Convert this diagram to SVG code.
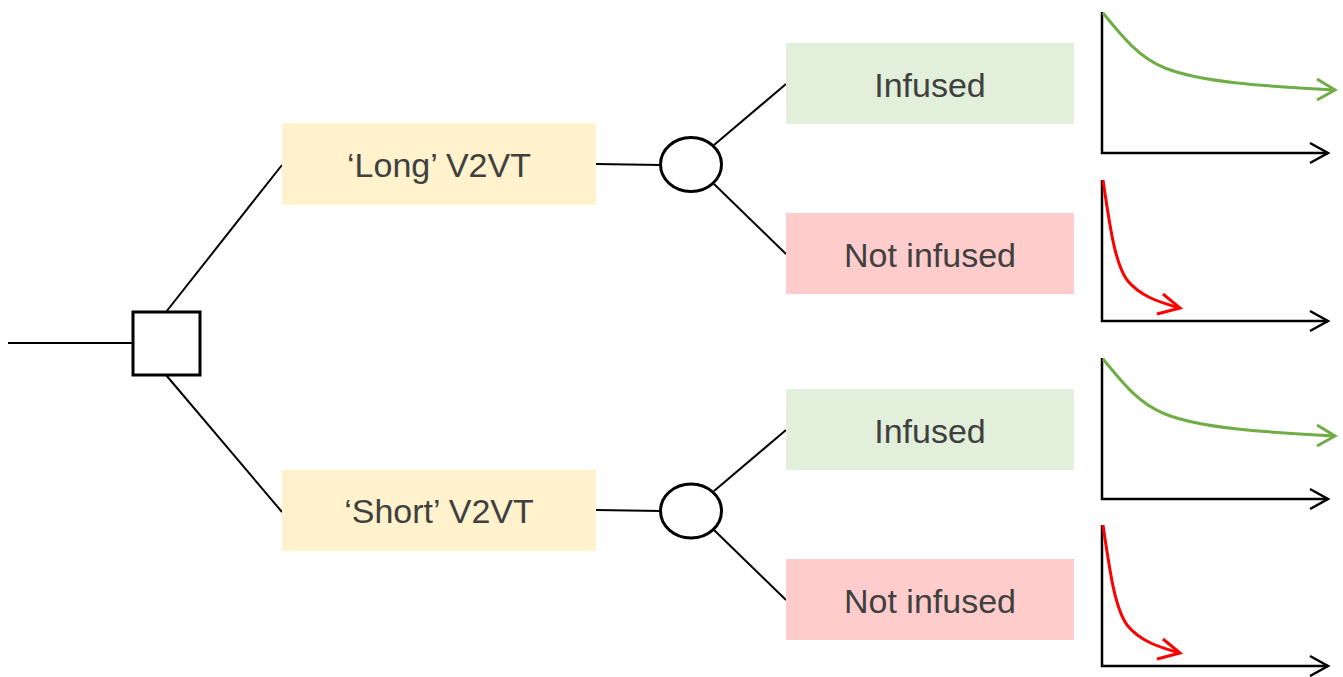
<svg xmlns="http://www.w3.org/2000/svg" width="1343" height="677" viewBox="0 0 1343 677">
  <style>
    .line { stroke: #000; stroke-width: 2; fill: none; }
    .node-shape { stroke: #000; stroke-width: 3; fill: #fff; }
    .label { font-family: "Liberation Sans", Arial, sans-serif; font-size: 34px; fill: #404040; text-anchor: middle; dominant-baseline: central; }
    .option { fill: #fff2cc; }
    .yes { fill: #e2efda; }
    .no { fill: #ffcccc; }
    .axis { stroke: #000; stroke-width: 2.5; fill: none; }
    .good { stroke: #70ad47; stroke-width: 3; fill: none; }
    .bad { stroke: #ff0000; stroke-width: 3; fill: none; }
  </style>
  <rect width="1343" height="677" fill="#fff"/>

  <g id="connectors">
    <line class="line" x1="8" y1="343" x2="133" y2="343"/>
    <line class="line" x1="166" y1="312" x2="282" y2="165"/>
    <line class="line" x1="166" y1="375" x2="282" y2="512"/>
    <line class="line" x1="596" y1="164" x2="661" y2="165"/>
    <line class="line" x1="714" y1="145" x2="786" y2="84"/>
    <line class="line" x1="714" y1="184" x2="786" y2="254"/>
    <line class="line" x1="596" y1="510" x2="661" y2="511"/>
    <line class="line" x1="714" y1="491" x2="786" y2="430"/>
    <line class="line" x1="714" y1="530" x2="786" y2="600"/>
  </g>

  <g id="decision">
    <rect class="node-shape" x="133" y="312" width="67" height="63"/>
  </g>

  <g id="long-v2vt">
    <rect class="option" x="282" y="123" width="314" height="82"/>
    <text class="label" x="439" y="165">‘Long’ V2VT</text>
  </g>
  <g id="short-v2vt">
    <rect class="option" x="282" y="470" width="314" height="81"/>
    <text class="label" x="439" y="511">‘Short’ V2VT</text>
  </g>

  <g id="chance-long">
    <ellipse class="node-shape" cx="691" cy="164.5" rx="30.5" ry="27"/>
  </g>
  <g id="chance-short">
    <ellipse class="node-shape" cx="691" cy="511" rx="30.5" ry="27"/>
  </g>

  <g id="long-infused">
    <rect class="yes" x="786" y="43" width="288" height="81"/>
    <text class="label" x="930" y="85">Infused</text>
  </g>
  <g id="long-not-infused">
    <rect class="no" x="786" y="213" width="288" height="81"/>
    <text class="label" x="930" y="255">Not infused</text>
  </g>
  <g id="short-infused">
    <rect class="yes" x="786" y="389" width="288" height="81"/>
    <text class="label" x="930" y="431">Infused</text>
  </g>
  <g id="short-not-infused">
    <rect class="no" x="786" y="559" width="288" height="81"/>
    <text class="label" x="930" y="601">Not infused</text>
  </g>

  <defs>
    <g id="axes">
      <path class="axis" d="M1102 12 V153 H1328"/>
      <path class="axis" d="M1310 143 L1328 153 L1310 163"/>
    </g>
    <g id="slow-decay">
      <path class="good" d="M1103 13 C1125 40 1140 58 1165 68 C1200 82 1260 86 1335 90"/>
      <path class="good" d="M1317 79 L1335 90 L1317 100"/>
    </g>
    <g id="fast-decay">
      <path class="bad" d="M1103 12 C1110 60 1115 95 1127 112 C1140 128 1158 134 1180 140"/>
      <path class="bad" d="M1163 126 L1180 140 L1157 146"/>
    </g>
  </defs>

  <g id="chart-long-infused">
    <use href="#axes"/>
    <use href="#slow-decay"/>
  </g>
  <g id="chart-long-not-infused" transform="translate(0,168)">
    <use href="#axes"/>
    <use href="#fast-decay"/>
  </g>
  <g id="chart-short-infused" transform="translate(0,346)">
    <use href="#axes"/>
    <use href="#slow-decay"/>
  </g>
  <g id="chart-short-not-infused" transform="translate(0,513)">
    <use href="#axes"/>
    <use href="#fast-decay"/>
  </g>
</svg>
